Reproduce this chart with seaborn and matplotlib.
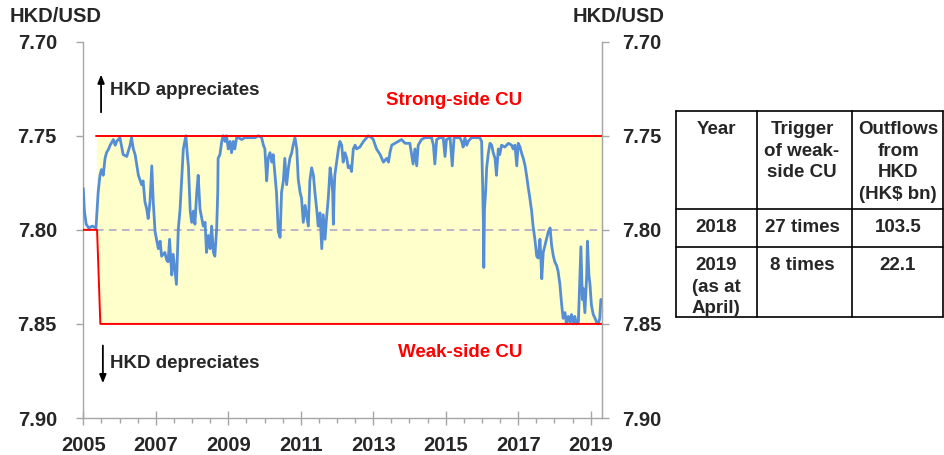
import matplotlib
matplotlib.use('Agg')
import matplotlib.pyplot as plt
import pandas as pd
import seaborn as sns
from matplotlib.ticker import MultipleLocator

# HKD/USD spot rate (decimal year, rate)
years = [
    2005.00, 2005.03, 2005.08, 2005.15, 2005.25, 2005.35, 2005.41, 2005.46, 2005.50, 2005.55,
    2005.60, 2005.64, 2005.70, 2005.74, 2005.83, 2005.88, 2005.92, 2006.01, 2006.05, 2006.10,
    2006.20, 2006.29, 2006.33, 2006.38, 2006.43, 2006.48, 2006.52, 2006.61, 2006.65, 2006.70,
    2006.75, 2006.79, 2006.84, 2006.89, 2006.93, 2006.98, 2007.07, 2007.12, 2007.16, 2007.25,
    2007.30, 2007.34, 2007.38, 2007.44, 2007.48, 2007.52, 2007.57, 2007.62, 2007.67, 2007.72,
    2007.76, 2007.83, 2007.87, 2007.90, 2007.95, 2007.99, 2008.04, 2008.08, 2008.13, 2008.17,
    2008.22, 2008.31, 2008.36, 2008.40, 2008.45, 2008.50, 2008.54, 2008.59, 2008.63, 2008.68,
    2008.71, 2008.72, 2008.77, 2008.82, 2008.86, 2008.91, 2008.95, 2009.00, 2009.05, 2009.09,
    2009.14, 2009.18, 2009.23, 2009.28, 2009.37, 2009.46, 2009.55, 2009.64, 2009.74, 2009.83,
    2009.92, 2009.97, 2010.01, 2010.06, 2010.10, 2010.15, 2010.20, 2010.24, 2010.29, 2010.33,
    2010.38, 2010.43, 2010.47, 2010.52, 2010.56, 2010.61, 2010.66, 2010.70, 2010.75, 2010.79,
    2010.84, 2010.89, 2010.93, 2010.98, 2011.02, 2011.07, 2011.12, 2011.16, 2011.21, 2011.25,
    2011.30, 2011.35, 2011.39, 2011.44, 2011.48, 2011.53, 2011.58, 2011.62, 2011.67, 2011.71,
    2011.76, 2011.81, 2011.85, 2011.88, 2011.90, 2011.92, 2011.94, 2011.99, 2012.04, 2012.08,
    2012.13, 2012.17, 2012.22, 2012.27, 2012.31, 2012.36, 2012.40, 2012.45, 2012.50, 2012.54,
    2012.63, 2012.73, 2012.82, 2012.86, 2012.96, 2013.00, 2013.09, 2013.19, 2013.28, 2013.37,
    2013.42, 2013.46, 2013.51, 2013.60, 2013.69, 2013.78, 2013.88, 2014.01, 2014.06, 2014.10,
    2014.15, 2014.20, 2014.24, 2014.33, 2014.43, 2014.52, 2014.61, 2014.66, 2014.70, 2014.75,
    2014.84, 2014.93, 2014.98, 2015.02, 2015.12, 2015.18, 2015.23, 2015.30, 2015.39, 2015.44,
    2015.48, 2015.53, 2015.58, 2015.62, 2015.71, 2015.81, 2015.90, 2015.94, 2015.99, 2016.02,
    2016.04, 2016.05, 2016.07, 2016.10, 2016.13, 2016.17, 2016.22, 2016.27, 2016.31, 2016.36,
    2016.40, 2016.45, 2016.49, 2016.54, 2016.63, 2016.73, 2016.82, 2016.86, 2016.91, 2016.96,
    2017.00, 2017.05, 2017.09, 2017.14, 2017.19, 2017.23, 2017.28, 2017.32, 2017.37, 2017.41,
    2017.46, 2017.51, 2017.55, 2017.60, 2017.65, 2017.69, 2017.74, 2017.78, 2017.83, 2017.88,
    2017.92, 2017.97, 2018.01, 2018.06, 2018.10, 2018.15, 2018.20, 2018.24, 2018.29, 2018.33,
    2018.38, 2018.43, 2018.47, 2018.52, 2018.56, 2018.61, 2018.66, 2018.70, 2018.73, 2018.77,
    2018.79, 2018.84, 2018.89, 2018.91, 2018.95, 2018.98, 2019.02, 2019.07, 2019.12, 2019.16,
    2019.21, 2019.25, 2019.28,
]
hkd = [
    7.778, 7.790, 7.797, 7.799, 7.798, 7.799, 7.780, 7.771, 7.768, 7.771,
    7.762, 7.759, 7.757, 7.755, 7.752, 7.755, 7.753, 7.751, 7.755, 7.760,
    7.761, 7.755, 7.751, 7.757, 7.760, 7.766, 7.771, 7.776, 7.774, 7.785,
    7.789, 7.794, 7.785, 7.766, 7.785, 7.801, 7.810, 7.806, 7.814, 7.812,
    7.816, 7.817, 7.805, 7.824, 7.813, 7.820, 7.829, 7.800, 7.789, 7.771,
    7.757, 7.750, 7.760, 7.766, 7.790, 7.796, 7.790, 7.797, 7.780, 7.771,
    7.789, 7.798, 7.796, 7.812, 7.803, 7.810, 7.798, 7.812, 7.814, 7.799,
    7.780, 7.762, 7.760, 7.753, 7.750, 7.753, 7.750, 7.757, 7.753, 7.759,
    7.753, 7.757, 7.751, 7.751, 7.752, 7.751, 7.751, 7.751, 7.751, 7.750,
    7.751, 7.755, 7.757, 7.774, 7.762, 7.759, 7.764, 7.760, 7.771, 7.780,
    7.801, 7.804, 7.780, 7.774, 7.762, 7.776, 7.767, 7.762, 7.759, 7.755,
    7.751, 7.757, 7.773, 7.780, 7.783, 7.796, 7.787, 7.792, 7.798, 7.774,
    7.767, 7.771, 7.780, 7.789, 7.798, 7.791, 7.810, 7.792, 7.805, 7.794,
    7.783, 7.767, 7.773, 7.780, 7.797, 7.780, 7.771, 7.764, 7.757, 7.753,
    7.755, 7.764, 7.759, 7.762, 7.767, 7.766, 7.769, 7.757, 7.755, 7.757,
    7.756, 7.753, 7.751, 7.750, 7.751, 7.752, 7.757, 7.760, 7.764, 7.762,
    7.764, 7.759, 7.755, 7.754, 7.753, 7.752, 7.754, 7.754, 7.760, 7.765,
    7.757, 7.766, 7.755, 7.752, 7.751, 7.751, 7.751, 7.755, 7.765, 7.752,
    7.751, 7.751, 7.761, 7.752, 7.751, 7.766, 7.751, 7.751, 7.751, 7.753,
    7.756, 7.751, 7.755, 7.753, 7.751, 7.751, 7.751, 7.751, 7.753, 7.778,
    7.798, 7.820, 7.789, 7.780, 7.767, 7.760, 7.754, 7.755, 7.759, 7.762,
    7.771, 7.757, 7.760, 7.755, 7.756, 7.754, 7.755, 7.757, 7.755, 7.766,
    7.754, 7.756, 7.759, 7.762, 7.766, 7.771, 7.778, 7.783, 7.790, 7.798,
    7.805, 7.814, 7.815, 7.805, 7.826, 7.812, 7.808, 7.805, 7.801, 7.799,
    7.808, 7.814, 7.817, 7.819, 7.822, 7.829, 7.840, 7.847, 7.844, 7.850,
    7.846, 7.849, 7.845, 7.850, 7.846, 7.850, 7.849, 7.826, 7.809, 7.837,
    7.831, 7.844, 7.824, 7.806, 7.824, 7.829, 7.840, 7.845, 7.847, 7.849,
    7.850, 7.847, 7.837,
]

# convertibility undertakings
strong_years = [2005.36, 2019.32]
strong_side = [7.75, 7.75]
weak_years = [2005.0, 2005.38, 2005.47, 2019.32]
weak_side = [7.80, 7.80, 7.85, 7.85]
peg_mid = 7.80
x_start, x_end = 2005.0, 2019.32

y_ticks = [7.70, 7.75, 7.80, 7.85, 7.90]
x_ticks = [2005, 2007, 2009, 2011, 2013, 2015, 2017, 2019]

table_header = ['Year', 'Trigger\nof weak-\nside CU', 'Outflows\nfrom\nHKD\n(HK$ bn)']
table_years = ['2018', '2019\n(as at\nApril)']
table_triggers = ['27 times', '8 times']
table_outflows = ['103.5', '22.1']

sns.set_style('white')
plt.rcParams['font.family'] = ['Liberation Sans', 'DejaVu Sans']
plt.rcParams['font.weight'] = 'bold'

W, H = 944, 455
fig = plt.figure(figsize=(W / 100, H / 100), dpi=100)
ax = fig.add_axes([83.3 / W, 1 - 418 / H, (602.3 - 83.3) / W, (418 - 41.7) / H])

df = pd.DataFrame({'year': years, 'hkd': hkd})

# yellow band between strong and weak side
fill_x = [strong_years[0]] + weak_years[1:]
fill_low = [weak_side[0]] + weak_side[1:]
ax.fill_between(fill_x, strong_side[0], fill_low, color='#FFFFCC', lw=0, zorder=1)
ax.plot([x_start, x_end], [peg_mid, peg_mid], color='#A9A0C8', lw=1.1,
        ls=(0, (5, 3.5)), zorder=2)

sns.lineplot(data=df, x='year', y='hkd', ax=ax, color='#558ED5', linewidth=2.0,
             estimator=None, sort=False, zorder=3)

ax.plot(strong_years, strong_side, color='#FF0000', lw=1.4, zorder=4)
ax.plot(weak_years, weak_side, color='#FF0000', lw=1.4, zorder=4)

ax.set_xlim(x_start, x_end)
ax.set_ylim(7.90, 7.70)
ax.set_xlabel('')
ax.set_ylabel('')

spine_c = '#A6A6A6'
for s in ['left', 'right', 'bottom']:
    ax.spines[s].set_color(spine_c)
    ax.spines[s].set_linewidth(1.0)
ax.spines['top'].set_visible(False)

ax.set_yticks(y_ticks)
ax.set_yticklabels([f'{v:.2f}' for v in y_ticks])
ax.set_xticks(x_ticks)
ax.set_xticklabels([str(v) for v in x_ticks])
ax.xaxis.set_minor_locator(MultipleLocator(0.5))
ax.tick_params(axis='y', left=True, direction='out', length=5, width=1, color=spine_c,
               labelsize=14.5, pad=14)
ax.tick_params(axis='x', which='major', bottom=True, direction='inout', length=10,
               width=1, color=spine_c, labelsize=14.5, pad=8)
ax.tick_params(axis='x', which='minor', bottom=True, direction='out', length=3.3,
               width=1, color=spine_c)
for lab in ax.get_xticklabels() + ax.get_yticklabels():
    lab.set_fontweight('bold')

ax2 = ax.twinx()
ax2.set_ylim(7.90, 7.70)
ax2.set_yticks(y_ticks)
ax2.set_yticklabels([f'{v:.2f}' for v in y_ticks], fontweight='bold')
ax2.tick_params(axis='y', right=True, direction='out', length=5, width=1, color=spine_c,
                labelsize=14.5, pad=9)
for s in ['left', 'top', 'bottom']:
    ax2.spines[s].set_visible(False)
ax2.spines['right'].set_color(spine_c)

# annotations
ax.annotate('', xy=(2005.49, 7.716), xytext=(2005.49, 7.739),
            arrowprops=dict(arrowstyle='-|>,head_length=0.5,head_width=0.2', color='black', lw=1.3))
ax.text(2005.74, 7.726, 'HKD appreciates', fontsize=13.5, fontweight='bold', va='center', ha='left')
ax.annotate('', xy=(2005.54, 7.883), xytext=(2005.54, 7.860),
            arrowprops=dict(arrowstyle='-|>,head_length=0.5,head_width=0.2', color='black', lw=1.3))
ax.text(2005.74, 7.871, 'HKD depreciates', fontsize=13.5, fontweight='bold', va='center', ha='left')
ax.text(2015.22, 7.731, 'Strong-side CU', fontsize=13.5, fontweight='bold', color='#FF0000',
        va='center', ha='center')
ax.text(2015.40, 7.865, 'Weak-side CU', fontsize=13.5, fontweight='bold', color='#FF0000',
        va='center', ha='center')

fig.text(10 / W, 1 - 16 / H, 'HKD/USD', fontsize=14.5, fontweight='bold', va='center', ha='left')
fig.text(573 / W, 1 - 16 / H, 'HKD/USD', fontsize=14.5, fontweight='bold', va='center', ha='left')

# table on the right
tax = fig.add_axes([676 / W, 1 - 317 / H, (944 - 676) / W, (317 - 111) / H])
tax.set_xlim(0, 268)
tax.set_ylim(206, 0)
tax.axis('off')
row_edges = [0, 98, 136, 206]
col_edges = [0, 81, 176, 267]
col_centres = [40, 126, 222]
for yv in row_edges:
    tax.plot([0, 267], [yv, yv], color='black', lw=1.2, clip_on=False)
for xv in col_edges:
    tax.plot([xv, xv], [0, 206], color='black', lw=1.2, clip_on=False)

rows = [table_header] + [list(r) for r in zip(table_years, table_triggers, table_outflows)]
for r, cells in enumerate(rows):
    top = row_edges[r]
    for c, txt in enumerate(cells):
        for i, line in enumerate(txt.split('\n')):
            tax.text(col_centres[c], top + 18.5 + i * 21.7, line, fontsize=13.5,
                     fontweight='bold', ha='center', va='center')

fig.savefig('out.png', dpi=100)
